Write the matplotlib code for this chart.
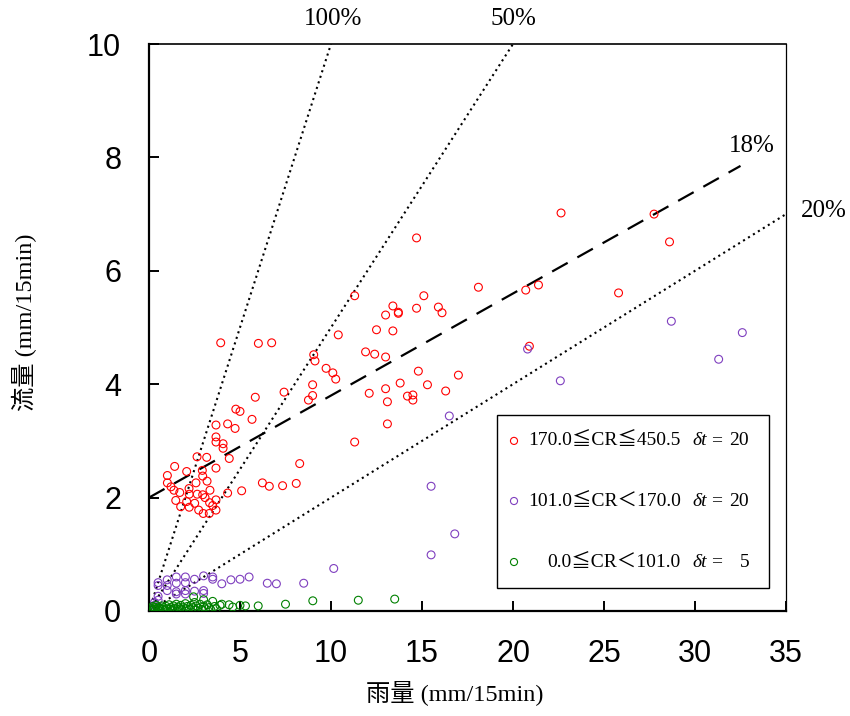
import matplotlib
matplotlib.use("Agg")
import matplotlib.pyplot as plt
from matplotlib.patches import Rectangle
import numpy as np

SERIF = ['Liberation Serif', 'Noto Sans CJK JP']
SANS = ['Liberation Sans', 'DejaVu Sans']

# rainfall (x) vs runoff (y), grouped by CR class
red_x = [3.94, 6.01, 6.74, 10.4, 9.05, 9.12, 9.73, 10.1, 10.26, 7.42, 5.84, 8.99, 8.76, 8.99,
         4.77, 5.0, 5.66, 3.68, 4.32, 4.73, 3.68, 3.68, 4.07, 4.07, 4.41, 3.68, 2.64, 3.17,
         1.41, 2.07, 2.93, 1.01, 1.01, 2.95, 3.19, 2.58, 8.28, 6.23, 6.61, 7.34, 8.09, 1.21,
         1.37, 1.69, 2.20, 2.21, 3.35, 4.32, 5.09, 2.65, 2.95, 3.08, 3.33, 3.68, 3.50, 1.47,
         2.07, 2.51, 1.74, 2.21, 2.73, 2.98, 3.31, 3.68,
         22.64, 27.75, 28.6, 14.7, 11.3, 18.1, 20.7, 21.4, 25.8, 13.4, 13.7, 13.7, 13.0, 14.7,
         15.1, 15.9, 16.1, 12.5, 13.4, 11.9, 12.4, 13.0, 20.9, 14.8, 17.0, 12.1, 13.0, 13.8,
         15.3, 16.3, 13.1, 14.2, 14.5, 14.5, 13.1, 11.3]
red_y = [4.73, 4.72, 4.73, 4.87, 4.52, 4.41, 4.28, 4.20, 4.09, 3.86, 3.77, 3.99, 3.72, 3.80,
         3.56, 3.52, 3.38, 3.28, 3.30, 3.22, 3.07, 2.98, 2.95, 2.87, 2.69, 2.52, 2.72, 2.71,
         2.55, 2.46, 2.48, 2.39, 2.26, 2.38, 2.29, 2.26, 2.60, 2.26, 2.20, 2.21, 2.25, 2.19,
         2.13, 2.09, 2.16, 2.06, 2.13, 2.08, 2.12, 2.06, 2.05, 2.00, 1.91, 1.96, 1.86, 1.95,
         1.93, 1.90, 1.84, 1.83, 1.78, 1.72, 1.72, 1.78,
         7.02, 7.00, 6.51, 6.58, 5.56, 5.71, 5.66, 5.75, 5.61, 5.38, 5.27, 5.25, 5.22, 5.34,
         5.56, 5.36, 5.26, 4.96, 4.94, 4.57, 4.53, 4.48, 4.67, 4.23, 4.16, 3.84, 3.92, 4.02,
         3.99, 3.88, 3.69, 3.79, 3.81, 3.72, 3.30, 2.98]

purple_x = [0.3, 0.5, 0.5, 0.5, 0.5, 0.3, 1.0, 1.0, 1.0, 1.5, 1.5, 1.5, 1.5, 2.0, 2.0, 2.0,
            2.0, 2.5, 2.5, 3.0, 3.0, 3.0, 3.5, 3.5, 4.0, 4.5, 5.0, 5.5, 6.5, 7.0, 8.5, 10.15,
            15.5, 16.8, 15.5, 16.5, 20.8, 22.6, 28.7, 31.3, 32.6]
purple_y = [0.15, 0.50, 0.45, 0.26, 0.19, 0.10, 0.55, 0.36, 0.45, 0.60, 0.49, 0.34, 0.30,
            0.60, 0.50, 0.36, 0.30, 0.56, 0.35, 0.62, 0.36, 0.31, 0.60, 0.56, 0.48, 0.55,
            0.56, 0.60, 0.49, 0.48, 0.49, 0.75, 0.99, 1.36, 2.20, 3.44, 4.62, 4.06, 5.11,
            4.44, 4.91]

green_x = [0.05, 0.1, 0.15, 0.2, 0.25, 0.3, 0.35, 0.4, 0.45, 0.5, 0.55, 0.6, 0.7, 0.75, 0.8,
           0.9, 0.95, 1.0, 1.1, 1.15, 1.2, 1.3, 1.35, 1.4, 1.5, 1.55, 1.6, 1.7, 1.75, 1.8,
           1.9, 2.0, 2.05, 2.1, 2.2, 2.3, 2.4, 2.45, 2.5, 2.55, 2.6, 2.7, 2.8, 2.9, 3.0, 3.0,
           3.1, 3.2, 3.3, 3.4, 3.5, 3.6, 3.7, 3.9, 4.0, 4.4, 4.6, 5.0, 5.3, 6.0, 7.5, 9.0,
           11.5, 13.5]
green_y = [0.02, 0.05, 0.01, 0.08, 0.03, 0.06, 0.02, 0.10, 0.04, 0.07, 0.01, 0.05, 0.09,
           0.03, 0.06, 0.02, 0.08, 0.04, 0.11, 0.03, 0.06, 0.02, 0.09, 0.05, 0.12, 0.03,
           0.07, 0.04, 0.10, 0.02, 0.06, 0.13, 0.04, 0.08, 0.03, 0.10, 0.06, 0.25, 0.15,
           0.02, 0.09, 0.05, 0.12, 0.03, 0.20, 0.08, 0.04, 0.11, 0.06, 0.02, 0.17, 0.08,
           0.04, 0.10, 0.12, 0.11, 0.07, 0.10, 0.09, 0.09, 0.12, 0.18, 0.19, 0.21]

# legend entries: CR range and time step
cr_labels = ['170.0≦CR≦450.5', '101.0≦CR＜170.0', '0.0≦CR＜101.0']
dt_values = ['20', '20', '5']
colors = ['#ff0000', '#7f3fbf', '#008000']

# runoff ratio reference lines
ratios = [1.0, 0.5, 0.2]
ratio_labels = ['100%', '50%', '20%']
fit_slope = 0.18
fit_intercept = 2.0
fit_xmax = 32.5

fig = plt.figure(figsize=(8.5, 7.16), dpi=100)
ax = fig.add_axes([149/850, 1 - 611/716, 637/850, 567/716])

ms = 32
for xs, ys, c in zip([red_x, purple_x, green_x], [red_y, purple_y, green_y], colors):
    ax.scatter(xs, ys, s=ms, facecolors='none', edgecolors=c, linewidths=0.8, zorder=3)

for r in ratios:
    xe = min(35, 10 / r)
    ax.plot([0, xe], [0, r * xe], color='black', linestyle=(0, (1, 1.8)), linewidth=1.5, zorder=2)

xf = np.array([0, fit_xmax])
ax.plot(xf, fit_intercept + fit_slope * xf, color='black', linestyle=(0, (8, 5)),
        linewidth=1.6, zorder=2)

ax.text(10.1, 10.25, ratio_labels[0], family=SERIF, fontsize=18, ha='center', va='bottom', clip_on=False)
ax.text(20.05, 10.25, ratio_labels[1], family=SERIF, fontsize=18, ha='center', va='bottom', clip_on=False)
ax.text(35.8, 7.05, ratio_labels[2], family=SERIF, fontsize=18, ha='left', va='center', clip_on=False)
ax.text(33.1, 8.2, '18%', family=SERIF, fontsize=18, ha='center', va='center', clip_on=False)

ax.set_xlim(0, 35)
ax.set_ylim(0, 10)
ax.set_xticks(range(0, 36, 5))
ax.set_yticks(range(0, 11, 2))
ax.tick_params(direction='in', length=7, width=1.4, pad=20, labelsize=22,
               top=False, right=False)
for lab in ax.get_xticklabels() + ax.get_yticklabels():
    lab.set_family(SANS)

ax.spines['left'].set_linewidth(1.6)
ax.spines['bottom'].set_linewidth(1.6)
ax.spines['top'].set_linewidth(1.2)
ax.spines['right'].set_linewidth(0.9)

# legend box drawn by hand so the mixed fonts and italics line up
ax.add_patch(Rectangle((0.546, 0.0406), 0.427, 0.305, transform=ax.transAxes,
                       facecolor='white', edgecolor='black', linewidth=1.0, zorder=4))
row_y = [0.300, 0.194, 0.0864]
for yy, lab, dt, c in zip(row_y, cr_labels, dt_values, colors):
    ax.scatter([0.573], [yy], s=26, facecolors='none', edgecolors=c, linewidths=0.8,
               transform=ax.transAxes, zorder=5, clip_on=False)
    ax.text(0.835, yy, lab, family=SERIF, fontsize=14, ha='right', va='center',
            transform=ax.transAxes, zorder=5)
    ax.text(0.853, yy, 'δt', family=SERIF, fontsize=14, style='italic', ha='left', va='center',
            transform=ax.transAxes, zorder=5)
    ax.text(0.891, yy, '=', family=SERIF, fontsize=14, ha='center', va='center',
            transform=ax.transAxes, zorder=5)
    ax.text(0.942, yy, dt, family=SERIF, fontsize=14, ha='right', va='center',
            transform=ax.transAxes, zorder=5)

fig.text(455/850, 1 - 693/716, '雨量 (mm/15min)', family=SERIF, fontsize=17.5,
         ha='center', va='center')
fig.text(24/850, 1 - 322/716, '流量 (mm/15min)', family=SERIF, fontsize=17.5,
         ha='center', va='center', rotation=90)

fig.savefig('out.png', dpi=100)
